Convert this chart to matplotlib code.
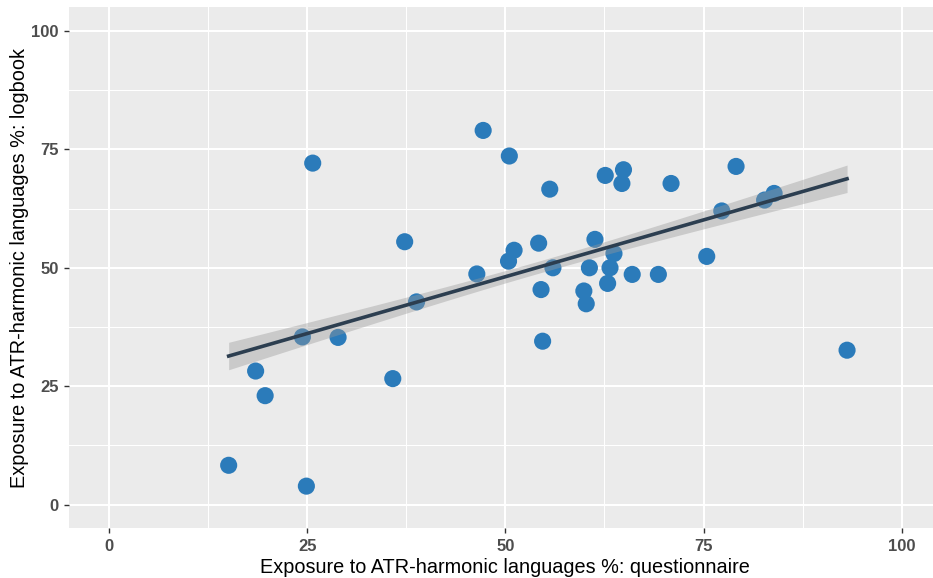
import numpy as np
import matplotlib.pyplot as plt

# ------------------------------------------------------
# Data
# ------------------------------------------------------
questionnaire = [15.1, 18.5, 19.7, 24.4, 24.9, 25.7, 28.9, 35.8, 37.3, 38.8,
                 46.4, 47.2, 50.5, 50.4, 51.1, 54.2, 54.5, 54.7, 55.6, 56.0,
                 59.9, 60.2, 60.6, 61.3, 62.6, 62.9, 63.2, 63.7, 64.7, 64.9,
                 66.0, 69.3, 70.9, 75.4, 77.3, 79.1, 82.7, 83.9, 93.1]
logbook = [8.3, 28.2, 23.0, 35.4, 3.9, 72.1, 35.3, 26.6, 55.5, 42.8,
           48.7, 79.0, 73.6, 51.4, 53.7, 55.2, 45.4, 34.5, 66.6, 50.0,
           45.1, 42.4, 50.0, 56.0, 69.5, 46.7, 50.0, 53.0, 67.8, 70.7,
           48.6, 48.6, 67.8, 52.4, 62.0, 71.4, 64.3, 65.7, 32.6]

# half-width of the grey band at the ends of the line, as seen in the chart
band_half_end = 2.9

ticks = [0, 25, 50, 75, 100]
minor_ticks = [12.5, 37.5, 62.5, 87.5]
xlabel = "Exposure to ATR-harmonic languages %: questionnaire"
ylabel = "Exposure to ATR-harmonic languages %: logbook"

x = np.array(questionnaire)
y = np.array(logbook)

# ------------------------------------------------------
# Linear fit + band shape (geom_smooth(method="lm") look)
# ------------------------------------------------------
n = len(x)
slope, intercept = np.polyfit(x, y, 1)
sxx = np.sum((x - x.mean()) ** 2)

xs = np.linspace(x.min(), x.max(), 100)
ys = slope * xs + intercept
shape = np.sqrt(1 / n + (xs - x.mean()) ** 2 / sxx)
half = band_half_end * shape / shape.max()

# ------------------------------------------------------
# Figure
# ------------------------------------------------------
plt.rcParams['font.family'] = ['Liberation Sans', 'DejaVu Sans']

fig = plt.figure(figsize=(9.33, 5.78), dpi=100)
ax = fig.add_axes([0.0743, 0.086, 0.9347, 0.9014])
ax.set_facecolor('#EBEBEB')

ax.scatter(x, y, s=152, color='#2B7BBA', edgecolors='none', zorder=2)
ax.fill_between(xs, ys - half, ys + half, color='#999999',
                alpha=0.4, linewidth=0, zorder=3)
ax.plot(xs, ys, color='#2C3E50', linewidth=2.6, zorder=4)

ax.set_xlim(-5, 105)
ax.set_ylim(-5, 105)
ax.set_xticks(ticks)
ax.set_yticks(ticks)
ax.set_xticks(minor_ticks, minor=True)
ax.set_yticks(minor_ticks, minor=True)
ax.grid(which='major', color='white', linewidth=1.5, zorder=0)
ax.grid(which='minor', color='white', linewidth=0.75, zorder=0)
ax.set_axisbelow(True)

for side in ax.spines.values():
    side.set_visible(False)

ax.tick_params(which='major', length=3.5, width=1, color='#333333',
               labelsize=12, labelcolor='#4D4D4D', pad=4)
ax.tick_params(which='minor', length=0)
for lab in ax.get_xticklabels() + ax.get_yticklabels():
    lab.set_fontweight('bold')

ax.set_xlabel(xlabel, fontsize=14.3, color='black', labelpad=3)
ax.set_ylabel(ylabel, fontsize=14.3, color='black', labelpad=2)

fig.savefig('out.png', dpi=100)
